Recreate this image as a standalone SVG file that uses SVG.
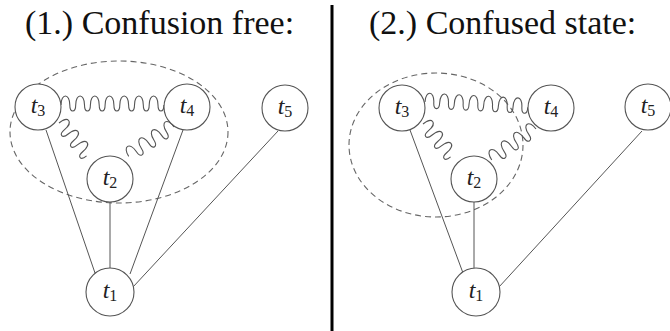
<svg xmlns="http://www.w3.org/2000/svg" width="670" height="331" viewBox="0 0 670 331">
<style>
.title{font-family:"Liberation Serif",Tinos,"DejaVu Serif",serif;font-size:34px;fill:#111}
.node{fill:#fff;stroke:#555;stroke-width:1.1}
.lbl{font-family:"Liberation Serif",Tinos,"DejaVu Serif",serif;font-size:24px;font-style:italic;fill:#222;text-anchor:middle}
.sub{font-style:normal;font-size:16px}
.edge{stroke:#555;stroke-width:1;fill:none}
.wave{stroke:#555;stroke-width:1.1;fill:none}
.group{stroke:#666;stroke-width:1.1;fill:none;stroke-dasharray:6,4}
</style>
<defs>
  <path id="waveH" d="M0,0 c0,-12 8.8,-12 8.8,0 c0,8 5.9,8 5.9,0 c0,-12 8.8,-12 8.8,0 c0,8 5.9,8 5.9,0 c0,-12 8.8,-12 8.8,0 c0,8 5.9,8 5.9,0 c0,-12 8.8,-12 8.8,0 c0,8 5.9,8 5.9,0 c0,-12 8.8,-12 8.8,0 c0,8 5.9,8 5.9,0 c0,-12 8.8,-12 8.8,0 c0,8 5.9,8 5.9,0 c0,-12 8.8,-12 8.8,0 c0,8 5.9,8 5.9,0"/>
  <path id="waveA" d="M0,0 c0,-12 8.6,-12 8.6,0 c0,8 5.7,8 5.7,0 c0,-12 8.6,-12 8.6,0 c0,8 5.7,8 5.7,0 c0,-12 8.6,-12 8.6,0 c0,8 5.7,8 5.7,0"/>
  <path id="waveB" d="M0,0 c0,12 9,12 9,0 c0,-8 6,-8 6,0 c0,12 9,12 9,0 c0,-8 6,-8 6,0 c0,12 9,12 9,0 c0,-8 6,-8 6,0 c0,12 9,12 9,0"/>
</defs>
<rect width="670" height="331" fill="#fff"/>
<text class="title" x="25" y="34">(1.) Confusion free:</text>
<text class="title" x="369" y="34">(2.) Confused state:</text>
<line x1="332" y1="5" x2="332" y2="331" stroke="#000" stroke-width="3"/>

<g id="connectors">
  <ellipse class="group" cx="119" cy="132" rx="109" ry="71"/>
  <line class="edge" x1="46" y1="130" x2="95" y2="273"/>
  <line class="edge" x1="110" y1="202" x2="110" y2="268"/>
  <line class="edge" x1="183" y1="130" x2="130" y2="274"/>
  <line class="edge" x1="278" y1="131" x2="133" y2="287"/>
  <use href="#waveH" class="wave" transform="translate(61,105)"/>
  <use href="#waveA" class="wave" transform="translate(59,123) rotate(50)"/>
  <use href="#waveB" class="wave" transform="translate(174,127) rotate(147)"/>
  <ellipse class="group" cx="436" cy="145" rx="87" ry="72"/>
  <line class="edge" x1="410" y1="130" x2="463" y2="273"/>
  <line class="edge" x1="474" y1="202" x2="474" y2="268"/>
  <line class="edge" x1="642" y1="131" x2="499" y2="287"/>
  <use href="#waveH" class="wave" transform="translate(425,102) rotate(3)"/>
  <use href="#waveA" class="wave" transform="translate(423,124) rotate(50)"/>
  <use href="#waveB" class="wave" transform="translate(536,129) rotate(145)"/>
</g>

<g id="L-t3"><circle class="node" cx="38" cy="107" r="23"/><text class="lbl" x="38" y="113">t<tspan class="sub" dy="3">3</tspan></text></g>
<g id="L-t4"><circle class="node" cx="187" cy="107" r="23"/><text class="lbl" x="187" y="113">t<tspan class="sub" dy="3">4</tspan></text></g>
<g id="L-t5"><circle class="node" cx="285" cy="108" r="23"/><text class="lbl" x="285" y="114">t<tspan class="sub" dy="3">5</tspan></text></g>
<g id="L-t2"><circle class="node" cx="110" cy="179" r="23"/><text class="lbl" x="110" y="185">t<tspan class="sub" dy="3">2</tspan></text></g>
<g id="L-t1"><circle class="node" cx="110" cy="292" r="24"/><text class="lbl" x="110" y="298">t<tspan class="sub" dy="3">1</tspan></text></g>

<g id="R-t3"><circle class="node" cx="402" cy="108" r="23"/><text class="lbl" x="402" y="114">t<tspan class="sub" dy="3">3</tspan></text></g>
<g id="R-t4"><circle class="node" cx="551" cy="108" r="23"/><text class="lbl" x="551" y="114">t<tspan class="sub" dy="3">4</tspan></text></g>
<g id="R-t5"><circle class="node" cx="648" cy="107" r="23"/><text class="lbl" x="648" y="113">t<tspan class="sub" dy="3">5</tspan></text></g>
<g id="R-t2"><circle class="node" cx="474" cy="179" r="23"/><text class="lbl" x="474" y="185">t<tspan class="sub" dy="3">2</tspan></text></g>
<g id="R-t1"><circle class="node" cx="476" cy="292" r="24"/><text class="lbl" x="476" y="298">t<tspan class="sub" dy="3">1</tspan></text></g>
</svg>
